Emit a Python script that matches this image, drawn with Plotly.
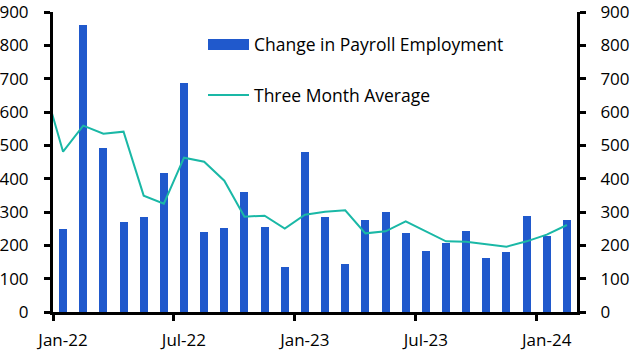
import plotly.graph_objects as go

months = ["Jan-22","Feb-22","Mar-22","Apr-22","May-22","Jun-22","Jul-22","Aug-22","Sep-22","Oct-22","Nov-22","Dec-22",
          "Jan-23","Feb-23","Mar-23","Apr-23","May-23","Jun-23","Jul-23","Aug-23","Sep-23","Oct-23","Nov-23","Dec-23",
          "Jan-24","Feb-24"]
payroll = [250, 862, 493, 271, 286, 418, 688, 241, 253, 361, 256, 136,
           481, 286, 145, 277, 301, 238, 184, 208, 244, 163, 181, 289,
           229, 275]
# three-month average, starting one month earlier (Dec-21)
avg_months = ["Dec-21"] + months
three_month_avg = [690, 481, 559, 535, 541, 349, 325, 463, 451, 394, 286, 289, 250,
                   292, 301, 305, 236, 242, 272, 242, 212, 211, 203, 196, 212,
                   232, 261]
tick_labels = ["Jan-22", "Jul-22", "Jan-23", "Jul-23", "Jan-24"]
y_ticks = [0, 100, 200, 300, 400, 500, 600, 700, 800, 900]

x_bar = [i + 0.5 for i in range(len(months))]
x_avg = [i - 0.5 for i in range(len(avg_months))]
tick_pos = [months.index(t) for t in tick_labels]

BLUE = "#2059CC"
TEAL = "#1AB8A6"
FONT = "Open Sans"

fig = go.Figure()
fig.add_trace(go.Bar(x=x_bar, y=payroll, width=0.4, marker=dict(color=BLUE, line=dict(width=0)),
                     name="Change in Payroll Employment", showlegend=False))
fig.add_trace(go.Scatter(x=x_avg, y=three_month_avg, mode="lines", line=dict(color=TEAL, width=2),
                         name="Three Month Average", showlegend=False))
fig.add_trace(go.Scatter(x=x_avg, y=three_month_avg, mode="lines", yaxis="y2", opacity=0,
                         hoverinfo="skip", showlegend=False))

axis_common = dict(showline=True, linecolor="black", linewidth=3, ticks="outside", ticklen=6,
                   tickwidth=3, tickcolor="black", showgrid=False, zeroline=False, automargin=False,
                   ticklabeloverflow="allow",
                   tickfont=dict(family=FONT, size=17, color="black"))

fig.update_layout(
    width=630, height=354,
    margin=dict(l=53, r=53, t=12, b=42),
    plot_bgcolor="white", paper_bgcolor="white",
    bargap=0,
    xaxis=dict(range=[0, len(months)], tickvals=tick_pos, ticktext=tick_labels,
               ticklabelshift=10, ticklabelstandoff=5, **axis_common),
    yaxis=dict(range=[0, 900], tickvals=y_ticks, ticklabelstandoff=12, **axis_common),
    yaxis2=dict(range=[0, 900], tickvals=y_ticks, overlaying="y", side="right",
                ticklabelstandoff=11, **axis_common),
)

# manual legend
fig.add_shape(type="rect", xref="paper", yref="paper",
              x0=(208-53)/524, x1=(249-53)/524, y0=(312-50)/300, y1=(312-39)/300,
              fillcolor=BLUE, line=dict(width=0))
fig.add_shape(type="line", xref="paper", yref="paper",
              x0=(208-53)/524, x1=(249-53)/524, y0=(312-95)/300, y1=(312-95)/300,
              line=dict(color=TEAL, width=2))
fig.add_annotation(xref="paper", yref="paper", x=(252-53)/524, y=(312-44)/300,
                   text="Change in Payroll Employment", showarrow=False, xanchor="left", yanchor="middle",
                   font=dict(family=FONT, size=17.5, color="black"))
fig.add_annotation(xref="paper", yref="paper", x=(252-53)/524, y=(312-95)/300,
                   text="Three Month Average", showarrow=False, xanchor="left", yanchor="middle",
                   font=dict(family=FONT, size=17.5, color="black"))

fig.write_html("out.html")
